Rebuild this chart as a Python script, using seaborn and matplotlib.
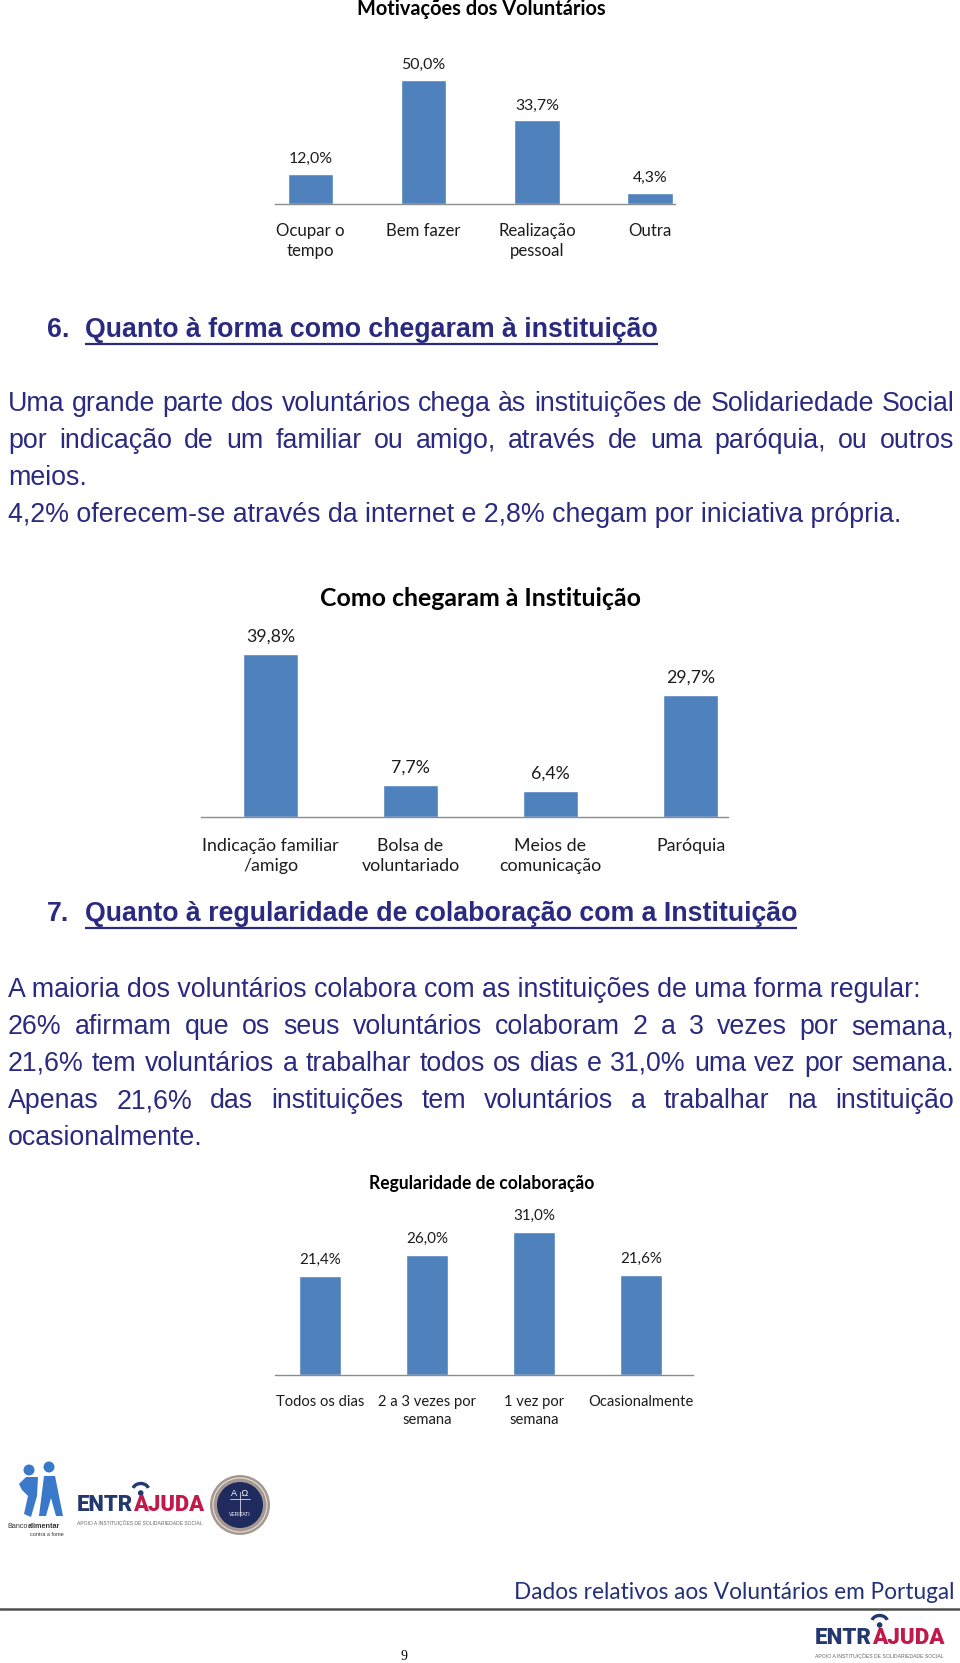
import numpy as np
import pandas as pd
import matplotlib
matplotlib.use("Agg")
import matplotlib.pyplot as plt
import seaborn as sns
from matplotlib.patches import Circle, Polygon, Arc

W, H = 960, 1663

# ---------------- data ----------------
mot_title = "Motivações dos Voluntários"
mot_cats = ["Ocupar o\ntempo", "Bem fazer", "Realização\npessoal", "Outra"]
mot_vals = [12.0, 50.0, 33.7, 4.3]

cheg_title = "Como chegaram à Instituição"
cheg_cats = ["Indicação familiar\n/amigo", "Bolsa de\nvoluntariado", "Meios de\ncomunicação", "Paróquia"]
cheg_vals = [39.8, 7.7, 6.4, 29.7]

reg_title = "Regularidade de colaboração"
reg_cats = ["Todos os dias", "2 a 3 vezes por\nsemana", "1 vez por\nsemana", "Ocasionalmente"]
reg_vals = [21.4, 26.0, 31.0, 21.6]

head6_num = "6."
head6 = "Quanto à forma como chegaram à instituição"
para6 = [
    ("Uma grande parte dos voluntários chega às instituições de Solidariedade Social", True),
    ("por indicação de um familiar ou amigo, através de uma paróquia, ou outros", True),
    ("meios.", False),
    ("4,2% oferecem-se através da internet e 2,8% chegam por iniciativa própria.", False),
]
head7_num = "7."
head7 = "Quanto à regularidade de colaboração com a Instituição"
para7 = [
    ("A maioria dos voluntários colabora com as instituições de uma forma regular:", False),
    ("26% afirmam que os seus voluntários colaboram 2 a 3 vezes por semana,", True),
    ("21,6% tem voluntários a trabalhar todos os dias e 31,0% uma vez por semana.", True),
    ("Apenas 21,6% das instituições tem voluntários a trabalhar na instituição", True),
    ("ocasionalmente.", False),
]
footer_title = "Dados relativos aos Voluntários em Portugal"
page_no = "9"

# ---------------- style ----------------
sns.set_theme(style="white")
plt.rcParams["font.family"] = ["Lato", "DejaVu Sans"]
BAR = "#4F81BD"
NAVY = "#2A2A80"
BODY = ["Liberation Sans", "DejaVu Sans"]
LOGO = ["Roboto", "Liberation Sans", "DejaVu Sans"]
CHART_TXT = "#1c1c1c"

fig = plt.figure(figsize=(W / 100, H / 100), dpi=100)
fig.patch.set_facecolor("white")
renderer = fig.canvas.get_renderer()

ov = fig.add_axes([0, 0, 1, 1], zorder=0)
ov.set_xlim(0, W)
ov.set_ylim(H, 0)
ov.axis("off")
ov.patch.set_alpha(0)


def text_width(s, size, **kw):
    t = ov.text(0, 0, s, fontsize=size, **kw)
    w = t.get_window_extent(renderer).width
    t.remove()
    return w


def fit_size(s, target, **kw):
    return 20.0 * target / text_width(s, 20.0, **kw)


def fmt(v):
    return f"{v:.1f}%".replace(".", ",")


# ---------------- bar charts ----------------
def bar_chart(cats, vals, x0, x1, base_y, cx0, spacing, ppu, width,
              title, tx, ty, title_w, val_ref, val_w, cat_ref, cat_w,
              val_off, pad_px, linesp):
    h_px = ppu * max(vals) + 4
    ax = fig.add_axes([x0 / W, 1 - base_y / H, (x1 - x0) / W, h_px / H], zorder=2)
    df = pd.DataFrame({"cat": cats, "val": vals})
    sns.barplot(data=df, x="cat", y="val", order=cats, color=BAR,
                saturation=1, width=width, ax=ax)
    ax.set_xlim((x0 - cx0) / spacing, (x1 - cx0) / spacing)
    ax.set_ylim(0, h_px / ppu)
    ax.set_xlabel("")
    ax.set_ylabel("")
    ax.set_yticks([])
    ax.patch.set_alpha(0)
    for s in ["top", "left", "right"]:
        ax.spines[s].set_visible(False)
    ax.spines["bottom"].set_color("#8C8C8C")
    ax.spines["bottom"].set_linewidth(1.0)
    cat_size = fit_size(cat_ref, cat_w)
    val_size = fit_size(val_ref, val_w)
    ax.tick_params(axis="x", length=0, pad=pad_px * 0.72, labelsize=cat_size,
                   labelcolor=CHART_TXT)
    for lab in ax.get_xticklabels():
        lab.set_linespacing(linesp)
    for i, v in enumerate(vals):
        ax.annotate(fmt(v), xy=(i, v), xytext=(0, val_off * 0.72),
                    textcoords="offset points", ha="center", va="center",
                    fontsize=val_size, color=CHART_TXT, annotation_clip=False)
    ts = fit_size(title, title_w, fontweight="bold")
    ov.text(tx, ty, title, ha="center", va="center", fontsize=ts,
            fontweight="bold", color="black")
    return ax


bar_chart(mot_cats, mot_vals, 275, 675, 204, 310.5, 113.2, 2.48, 0.40,
          mot_title, 481, 9, 248, "50,0%", 44, "Realização", 77,
          15, 19, 1.3)
bar_chart(cheg_cats, cheg_vals, 201, 728, 817, 270.5, 140.0, 4.095, 0.39,
          cheg_title, 480, 599, 321, "39,8%", 49, "Indicação familiar", 136,
          17.5, 21, 1.3)
bar_chart(reg_cats, reg_vals, 275, 693, 1375, 320.0, 107.0, 4.61, 0.39,
          reg_title, 482, 1183, 225, "31,0%", 42, "Ocasionalmente", 105,
          16.5, 20, 1.35)

# ---------------- headings & paragraphs ----------------
hsize = fit_size(head6, 574, family=BODY, fontweight="bold")
bsize = fit_size(para6[3][0], 892, family=BODY)


def heading(num, txt, y):
    ov.text(47, y, num, fontsize=hsize, family=BODY, fontweight="bold",
            color=NAVY, ha="left", va="baseline")
    ov.text(85, y, txt, fontsize=hsize, family=BODY, fontweight="bold",
            color=NAVY, ha="left", va="baseline")
    w = text_width(txt, hsize, family=BODY, fontweight="bold")
    ov.plot([85, 85 + w], [y + 7, y + 7], color=NAVY, lw=1.6,
            solid_capstyle="butt")


def paragraph(lines, y0, step, x0=8, x1=954):
    for k, (line, just) in enumerate(lines):
        y = y0 + k * step
        if not just:
            ov.text(x0, y, line, fontsize=bsize, family=BODY, color=NAVY,
                    ha="left", va="baseline")
            continue
        words = line.split(" ")
        widths = [text_width(w, bsize, family=BODY) for w in words]
        gap = (x1 - x0 - sum(widths)) / (len(words) - 1)
        x = x0
        for w, wd in zip(words, widths):
            ov.text(x, y, w, fontsize=bsize, family=BODY, color=NAVY,
                    ha="left", va="baseline")
            x += wd + gap


heading(head6_num, head6, 337)
paragraph(para6, 411, 37)
heading(head7_num, head7, 921)
paragraph(para7, 997, 37)

# ---------------- logos ----------------
def entrajuda(x0, base, width, cap_h, sub_y):
    kw = dict(family=LOGO, fontweight="heavy")
    s = fit_size("ENTRAJUDA", width, **kw)
    w_all = text_width("ENTRAJUDA", s, **kw)
    w1 = w_all - text_width("AJUDA", s, **kw)
    wa = text_width("A", s, **kw)
    ov.text(x0, base, "ENTR", fontsize=s, color="#24386E", ha="left",
            va="baseline", **kw)
    ov.text(x0 + w1, base, "AJUDA", fontsize=s, color="#C2184A", ha="left",
            va="baseline", **kw)
    cx = x0 + w1 + wa / 2
    top = base - cap_h
    ov.add_patch(Circle((cx, top - 5), 2.8, color="#24386E", lw=0))
    ov.add_patch(Arc((cx, top - 8), 16, 13, theta1=195, theta2=345,
                     color="#24386E", lw=2.4))
    ss = fit_size("APOIO A INSTITUIÇÕES DE SOLIDARIEDADE SOCIAL", width,
                  family=BODY)
    ov.text(x0, sub_y, "APOIO A INSTITUIÇÕES DE SOLIDARIEDADE SOCIAL",
            fontsize=ss, family=BODY, color="#666666", ha="left",
            va="center")


entrajuda(77, 1511, 127, 13, 1523)
entrajuda(815, 1644, 129, 14, 1656)

# Banco alimentar logo (approximation)
blue = "#3A78C9"
ov.add_patch(Circle((29, 1470), 5.5, color=blue, lw=0))
ov.add_patch(Circle((49, 1467), 5.5, color=blue, lw=0))
ov.add_patch(Polygon([(19, 1484), (26, 1477), (38, 1477), (37, 1496),
                      (31, 1517), (24, 1514), (28, 1496), (22, 1490)],
                     closed=True, color=blue, lw=0))
ov.add_patch(Polygon([(44, 1476), (55, 1476), (63, 1516), (56, 1516),
                      (51, 1498), (46, 1516), (39, 1516)],
                     closed=True, color=blue, lw=0))
ov.text(7, 1527, "Banco", fontsize=5.2, family=BODY, color="#333333",
        ha="left", va="center")
ov.text(28, 1527, "alimentar", fontsize=5.2, family=BODY, fontweight="bold",
        color="#333333", ha="left", va="center")
ov.text(64, 1534, "contra a fome", fontsize=4.0, family=BODY,
        color="#333333", ha="right", va="center")

# Seal
ov.add_patch(Circle((240, 1505), 30, color="#A49890", lw=0))
ov.add_patch(Circle((240, 1505), 27, fill=False, ec="#E6E0DA", lw=0.8))
ov.add_patch(Circle((240, 1505), 23, color="#1F2B5E", lw=0))
ov.text(240, 1494, "A  Ω", fontsize=6.5, family=BODY, color="white",
        ha="center", va="center")
ov.plot([240, 240], [1492, 1516], color="#D8D8E8", lw=0.6)
ov.plot([230, 250], [1499, 1499], color="#D8D8E8", lw=0.6)
ov.text(240, 1515, "VERITATI", fontsize=3.6, family=BODY, color="white",
        ha="center", va="center")

# ---------------- footer ----------------
fs = fit_size(footer_title, 440)
ov.text(954, 1599, footer_title, fontsize=fs, color="#23307A", ha="right",
        va="baseline")
ov.plot([0, W], [1609, 1609], color="#505050", lw=1.8)
ov.text(404, 1656, page_no, fontsize=10, family=["Liberation Serif", "DejaVu Serif"],
        color="black", ha="center", va="center")

fig.savefig("out.png", dpi=100, facecolor="white")
